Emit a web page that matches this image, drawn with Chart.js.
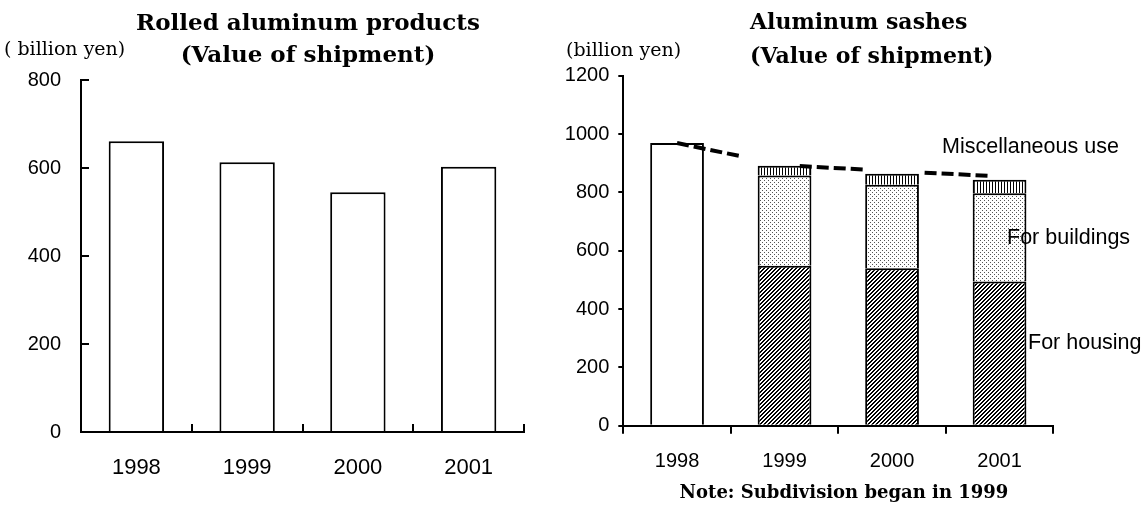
<!DOCTYPE html>
<html>
<head>
<meta charset="utf-8">
<script src="https://cdn.jsdelivr.net/npm/chart.js@4.4.0/dist/chart.umd.min.js"></script>
<style>
  html, body { margin: 0; padding: 0; background: #fff; }
  #wrap { position: relative; width: 1145px; height: 506px; }
  .box { position: absolute; top: 0; height: 506px; }
  #left { left: 0; width: 560px; }
  #right { left: 560px; width: 585px; }
</style>
</head>
<body>
<div id="wrap">
  <div class="box" id="left"><canvas id="rolledChart" width="560" height="506"></canvas></div>
  <div class="box" id="right"><canvas id="sashChart" width="585" height="506"></canvas></div>
</div>
<script>
// values (billion yen)
const years = ['1998', '1999', '2000', '2001'];
const rolledValues = [661, 613, 545, 603];
const rolledMax = 800;
const sashUndivided = [969, null, null, null];
const sashHousing = [null, 548, 540, 494];
const sashBuildings = [null, 310, 286, 303];
const sashMisc = [null, 33, 38, 46];
const sashTrend = [969, 893, 873, 855];
const sashMax = 1200;
const tickStep = 200;

const SANS = "'Liberation Sans', Arial, sans-serif";
const SERIF = "'DejaVu Serif', serif";

function makePattern(w, h, draw) {
    const c = document.createElement('canvas');
    c.width = w;
    c.height = h;
    const g = c.getContext('2d');
    g.fillStyle = '#fff';
    g.fillRect(0, 0, w, h);
    g.fillStyle = '#000';
    draw(g);
    return g.createPattern(c, 'repeat');
}

// diagonal hatch for housing
const hatch = makePattern(4, 4, g => {
    for (let i = 0; i < 4; i++) {
        g.fillRect(i, 3 - i, 1, 1);
        g.fillRect((i + 1) % 4, 3 - i, 1, 1);
    }
});
// fine dots for buildings
const dots = makePattern(4, 4, g => {
    g.fillStyle = '#555';
    g.fillRect(0, 0, 1, 1);
    g.fillRect(2, 2, 1, 1);
});
// vertical stripes for miscellaneous use
const stripes = makePattern(3, 3, g => {
    g.fillRect(0, 0, 1, 3);
});

// free text drawn on the canvas (titles, unit, labels, note)
const textPlugin = {
    id: 'texts',
    afterDraw(chart, args, opts) {
        const ctx = chart.ctx;
        ctx.save();
        ctx.fillStyle = '#000';
        ctx.textBaseline = 'middle';
        (opts.items || []).forEach(t => {
            ctx.font = t.font;
            ctx.textAlign = t.align || 'left';
            ctx.fillText(t.text, t.x, t.y);
        });
        ctx.restore();
    }
};

function axisStyle(tickLength, fontSize, padding) {
    return {
        grid: { offset: true, drawOnChartArea: false, color: '#000', lineWidth: 2, tickLength: tickLength },
        border: { color: '#000', width: 2 },
        ticks: {
            color: '#000',
            font: { family: SANS, size: fontSize },
            padding: padding,
            callback: function (v) { return this.getLabelForValue ? this.getLabelForValue(v) : v; }
        }
    };
}

function valueAxis(tickLength, fontSize, padding, max) {
    const a = axisStyle(tickLength, fontSize, padding);
    a.grid.offset = false;
    a.min = 0;
    a.max = max;
    a.ticks.stepSize = tickStep;
    a.ticks.callback = v => String(v);
    return a;
}

new Chart(document.getElementById('rolledChart'), {
    type: 'bar',
    data: {
        labels: years,
        datasets: [{
            data: rolledValues,
            backgroundColor: '#fff',
            borderColor: '#000',
            borderWidth: 2,
            barPercentage: 0.5,
            categoryPercentage: 1
        }]
    },
    plugins: [textPlugin],
    options: {
        responsive: false,
        animation: false,
        layout: { padding: { top: 80, right: 36, left: 0, bottom: 0 } },
        plugins: {
            legend: { display: false },
            tooltip: { enabled: false },
            texts: {
                items: [
                    { text: 'Rolled aluminum products', x: 308, y: 24, align: 'center', font: `bold 23px ${SERIF}` },
                    { text: '(Value of shipment)', x: 308, y: 56, align: 'center', font: `bold 23px ${SERIF}` },
                    { text: '( billion yen)', x: 4, y: 50, font: `19px ${SERIF}` }
                ]
            }
        },
        scales: {
            x: Object.assign(axisStyle(-8, 22, 31), {
                afterFit: s => { s.height = 74; }
            }),
            y: Object.assign(valueAxis(-8, 20, 28, rolledMax), {
                afterFit: s => { s.width = 81; }
            })
        }
    }
});

const barBase = { type: 'bar', stack: 'sash', order: 1, borderColor: '#000', borderWidth: 2, barPercentage: 0.5, categoryPercentage: 1 };

new Chart(document.getElementById('sashChart'), {
    data: {
        labels: years,
        datasets: [
            Object.assign({}, barBase, { label: 'Total', data: sashUndivided, backgroundColor: '#fff' }),
            Object.assign({}, barBase, { label: 'For housing', data: sashHousing, backgroundColor: hatch }),
            Object.assign({}, barBase, { label: 'For buildings', data: sashBuildings, backgroundColor: dots }),
            Object.assign({}, barBase, { label: 'Miscellaneous use', data: sashMisc, backgroundColor: stripes }),
            {
                type: 'line',
                label: 'Trend',
                stack: 'trend',
                order: 0,
                data: sashTrend,
                borderColor: '#000',
                borderWidth: 4,
                borderDash: [12, 5, 12, 5, 12, 5, 12, 62],
                borderCapStyle: 'butt',
                pointRadius: 0,
                fill: false,
                tension: 0
            }
        ]
    },
    plugins: [textPlugin],
    options: {
        responsive: false,
        animation: false,
        layout: { padding: { top: 75.7, right: 91.7, left: 0, bottom: 0 } },
        plugins: {
            legend: { display: false },
            tooltip: { enabled: false },
            texts: {
                items: [
                    { text: 'Aluminum sashes', x: 190, y: 23, font: `bold 22px ${SERIF}` },
                    { text: '(Value of shipment)', x: 190, y: 57, font: `bold 22px ${SERIF}` },
                    { text: '(billion yen)', x: 6, y: 51, font: `19px ${SERIF}` },
                    { text: 'Miscellaneous use', x: 382, y: 147, font: `21.5px ${SANS}` },
                    { text: 'For buildings', x: 447, y: 238, font: `21.5px ${SANS}` },
                    { text: 'For housing', x: 468, y: 343, font: `21.5px ${SANS}` },
                    { text: 'Note: Subdivision began in 1999', x: 284, y: 493, align: 'center', font: `bold 18px ${SERIF}` }
                ]
            }
        },
        scales: {
            x: Object.assign(axisStyle(8, 20, 16), {
                stacked: true,
                afterFit: s => { s.height = 80.3; }
            }),
            y: Object.assign(valueAxis(5, 20, 9, sashMax), {
                stacked: true,
                afterFit: s => { s.width = 63.3; }
            })
        }
    }
});
</script>
</body>
</html>
